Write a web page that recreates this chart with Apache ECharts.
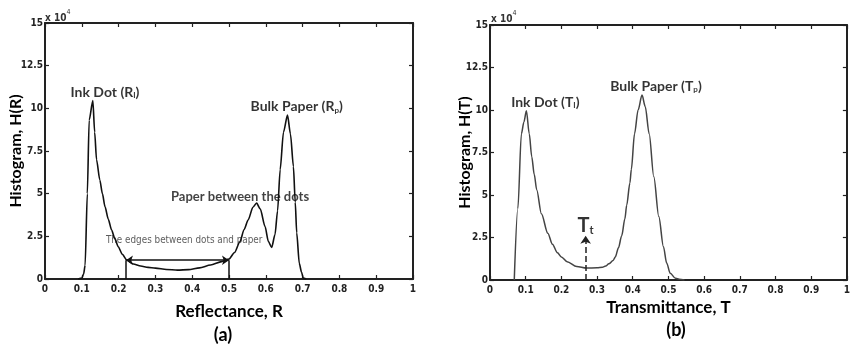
<!DOCTYPE html>
<html>
<head>
<meta charset="utf-8">
<script src="https://cdn.jsdelivr.net/npm/echarts@6/dist/echarts.min.js"></script>
<style>
html,body{margin:0;padding:0;background:#fff;}
#c{width:853px;height:347px;}
</style>
</head>
<body>
<div id="c"></div>
<script>
// ---- Data (histogram values in units of 10^4) ----
const reflectance = [0.09,0.10,0.105,0.109,0.115,0.120,0.130,0.135,0.140,0.149,0.156,0.163,0.172,0.181,0.190,0.199,0.210,0.222,0.240,0.260,0.280,0.300,0.330,0.360,0.390,0.420,0.450,0.480,0.500,0.515,0.530,0.541,0.552,0.565,0.575,0.585,0.598,0.607,0.616,0.625,0.632,0.639,0.648,0.659,0.667,0.675,0.680,0.684,0.691,0.697,0.702,0.710];
const histR = [0,0.05,0.3,0.8,5.0,9.3,10.45,8.6,7.0,5.8,5.0,4.24,3.5,2.87,2.35,1.89,1.45,1.11,0.88,0.76,0.68,0.64,0.56,0.52,0.55,0.65,0.82,1.02,1.17,1.55,2.2,2.9,3.46,4.2,4.45,4.1,3.07,2.2,1.85,2.6,4.0,6.4,8.6,9.6,8.5,6.6,4.5,2.7,0.92,0.4,0.05,0];

const transmittance = [0.068,0.078,0.088,0.095,0.102,0.110,0.117,0.124,0.131,0.144,0.162,0.175,0.189,0.200,0.216,0.243,0.270,0.300,0.315,0.324,0.333,0.345,0.351,0.360,0.369,0.378,0.383,0.392,0.396,0.405,0.415,0.426,0.435,0.446,0.459,0.473,0.486,0.495,0.505,0.520,0.530,0.545];
const histT = [0,4.2,8.6,9.3,9.96,8.6,7.25,6.2,5.3,3.9,2.75,2.1,1.6,1.35,1.08,0.8,0.7,0.72,0.75,0.82,0.95,1.15,1.35,1.9,2.6,3.6,4.4,5.7,6.5,8.6,10.0,10.88,10.2,8.6,6.07,3.73,1.96,1.0,0.39,0.1,0.05,0];

const xTickLabels = ['0','0.1','0.2','0.3','0.4','0.5','0.6','0.7','0.8','0.9','1'];
const yTickLabels = ['0','2.5','5','7.5','10','12.5','15'];

// annotation anchors (data coordinates)
const edgeLeft = 0.22, edgeRight = 0.5, edgeLevel = 1.1;
const thresholdT = 0.268, thresholdTop = 2.6;

const pairs = (xs, ys) => xs.map((x, i) => [x, ys[i]]);

const LBL_FONT = 'Lato';
const TICK_FONT = "'Liberation Sans Narrow','DejaVu Sans Condensed','Liberation Sans',Arial,sans-serif";
const AX = '#222';

function xAx(grid, pos, showLabel) {
  return {
    type: 'value', gridIndex: grid, position: pos, min: 0, max: 1, interval: 0.1,
    axisLine: {show: true, onZero: false, lineStyle: {color: AX, width: 2}},
    axisTick: {show: true, inside: true, length: 4, lineStyle: {color: AX, width: 1.2}},
    axisLabel: {show: showLabel, margin: 5, color: '#222', fontFamily: TICK_FONT, fontWeight: 'bold', fontSize: 10,
      formatter: v => xTickLabels[Math.round(v * 10)]},
    splitLine: {show: false}
  };
}
function yAx(grid, pos, showLabel) {
  return {
    type: 'value', gridIndex: grid, position: pos, min: 0, max: 15, interval: 2.5,
    axisLine: {show: true, onZero: false, lineStyle: {color: AX, width: 2}},
    axisTick: {show: true, inside: true, length: 4, lineStyle: {color: AX, width: 1.2}},
    axisLabel: {show: showLabel, margin: 2, color: '#222', fontFamily: TICK_FONT, fontWeight: 'bold', fontSize: 10,
      formatter: v => yTickLabels[Math.round(v / 2.5)]},
    splitLine: {show: false}
  };
}

const xA0 = xAx(0, 'bottom', true);
Object.assign(xA0, {name: 'Reflectance, R', nameLocation: 'middle', nameGap: 24, nameMoveOverlap: false,
  nameTextStyle: {fontFamily: LBL_FONT, fontWeight: 'bold', fontSize: 17, color: '#000'}});
const xA2 = xAx(1, 'bottom', true);
Object.assign(xA2, {name: 'Transmittance, T', nameLocation: 'middle', nameGap: 19, nameMoveOverlap: false,
  nameTextStyle: {fontFamily: LBL_FONT, fontWeight: 'bold', fontSize: 17, color: '#000'}});
const yA0 = yAx(0, 'left', true);
Object.assign(yA0, {name: 'Histogram, H(R)', nameLocation: 'middle', nameGap: 21, nameRotate: 90, nameMoveOverlap: false,
  nameTextStyle: {fontFamily: LBL_FONT, fontWeight: 'bold', fontSize: 16, color: '#000'}});
const yA2 = yAx(1, 'left', true);
Object.assign(yA2, {name: 'Histogram, H(T)', nameLocation: 'middle', nameGap: 17, nameRotate: 90, nameMoveOverlap: false,
  nameTextStyle: {fontFamily: LBL_FONT, fontWeight: 'bold', fontSize: 16, color: '#000'}});

const subRich = {
  b: {fontFamily: LBL_FONT, fontWeight: 'bold', fontSize: 14, color: '#000'},
  s: {fontFamily: LBL_FONT, fontWeight: 'bold', fontSize: 8, color: '#000', verticalAlign: 'bottom', padding: [7, 0, 0, 0]}
};

function textPoint(x, y, formatter, rich) {
  return {value: [x, y], label: {show: true, position: 'inside', formatter: formatter, rich: rich}};
}

const option = {
  animation: false,
  backgroundColor: '#fff',
  grid: [
    {left: 45, top: 23, width: 368, height: 256},
    {left: 490, top: 25, width: 370, height: 255}
  ],
  xAxis: [xA0, xAx(0, 'top', false), xA2, xAx(1, 'top', false)],
  yAxis: [yA0, yAx(0, 'right', false), yA2, yAx(1, 'right', false)],
  series: [
    {
      type: 'line', xAxisIndex: 0, yAxisIndex: 0, data: pairs(reflectance, histR),
      showSymbol: false, smooth: 0.25, smoothMonotone: 'x', lineStyle: {color: '#111', width: 1.6}, silent: true,
      markLine: {
        silent: true, animation: false, label: {show: false},
        lineStyle: {color: '#111', width: 1.5, type: 'solid'},
        symbolSize: 7,
        data: [
          [{coord: [edgeLeft, edgeLevel], symbol: 'arrow'}, {coord: [edgeRight, edgeLevel], symbol: 'arrow'}],
          [{coord: [edgeLeft, 0], symbol: 'none'}, {coord: [edgeLeft, edgeLevel], symbol: 'none'}],
          [{coord: [edgeRight, 0], symbol: 'none'}, {coord: [edgeRight, edgeLevel], symbol: 'none'}]
        ]
      }
    },
    {
      type: 'line', xAxisIndex: 2, yAxisIndex: 2, data: pairs(transmittance, histT),
      showSymbol: false, smooth: 0.3, smoothMonotone: 'x', lineStyle: {color: '#444', width: 1.5}, silent: true,
      markLine: {
        silent: true, animation: false, label: {show: false},
        lineStyle: {color: '#222', width: 1.5, type: 'dashed'},
        symbolSize: 8,
        data: [
          [{coord: [thresholdT, 0], symbol: 'none'}, {coord: [thresholdT, thresholdTop], symbol: 'arrow'}]
        ]
      }
    },
    {
      type: 'scatter', xAxisIndex: 0, yAxisIndex: 0, symbolSize: 0, silent: true,
      data: [
        textPoint(0.163, 10.95, '{b|Ink Dot (R}{s|I}{b|)}', subRich),
        textPoint(0.684, 10.1, '{b|Bulk Paper (R}{s|p}{b|)}', subRich),
        textPoint(0.53, 4.8, '{p|Paper between the dots}', {p: {fontFamily: LBL_FONT, fontWeight: 'bold', fontSize: 13, color: '#111'}}),
        textPoint(0.378, 2.28, '{e|The edges between dots and paper}', {e: {fontFamily: TICK_FONT, fontSize: 9.8, color: '#333'}})
      ]
    },
    {
      type: 'scatter', xAxisIndex: 2, yAxisIndex: 2, symbolSize: 0, silent: true,
      data: [
        textPoint(0.155, 10.45, '{b|Ink Dot (T}{s|I}{b|)}', subRich),
        textPoint(0.465, 11.4, '{b|Bulk Paper (T}{s|p}{b|)}', subRich),
        textPoint(0.268, 3.2, '{t|T}{u|t}', {
          t: {fontFamily: LBL_FONT, fontWeight: 'bold', fontSize: 20, color: '#000'},
          u: {fontFamily: LBL_FONT, fontWeight: 'bold', fontSize: 11, color: '#000', verticalAlign: 'bottom', padding: [10, 0, 0, 0]}
        })
      ]
    }
  ],
  graphic: [
    {type: 'text', left: 45, top: 9, style: {text: '{a|x 10}{e|4}', rich: {
      a: {fontFamily: TICK_FONT, fontSize: 10, fill: '#333', fontWeight: 'bold', verticalAlign: 'bottom', padding: [4,0,0,0]},
      e: {fontFamily: TICK_FONT, fontSize: 7, fill: '#333', verticalAlign: 'top'}}}},
    {type: 'text', left: 491, top: 10, style: {text: '{a|x 10}{e|4}', rich: {
      a: {fontFamily: TICK_FONT, fontSize: 10, fill: '#333', fontWeight: 'bold', verticalAlign: 'bottom', padding: [4,0,0,0]},
      e: {fontFamily: TICK_FONT, fontSize: 7, fill: '#333', verticalAlign: 'top'}}}},
    {type: 'text', x: 223, y: 335, style: {text: '(a)', textAlign: 'center', textVerticalAlign: 'middle',
      fontFamily: LBL_FONT, fontWeight: 'bold', fontSize: 18, fill: '#000'}},
    {type: 'text', x: 676, y: 330, style: {text: '(b)', textAlign: 'center', textVerticalAlign: 'middle',
      fontFamily: LBL_FONT, fontWeight: 'bold', fontSize: 18, fill: '#000'}}
  ]
};

const chart = echarts.init(document.getElementById('c'), null, {renderer: 'canvas'});
chart.setOption(option);
</script>
</body>
</html>
